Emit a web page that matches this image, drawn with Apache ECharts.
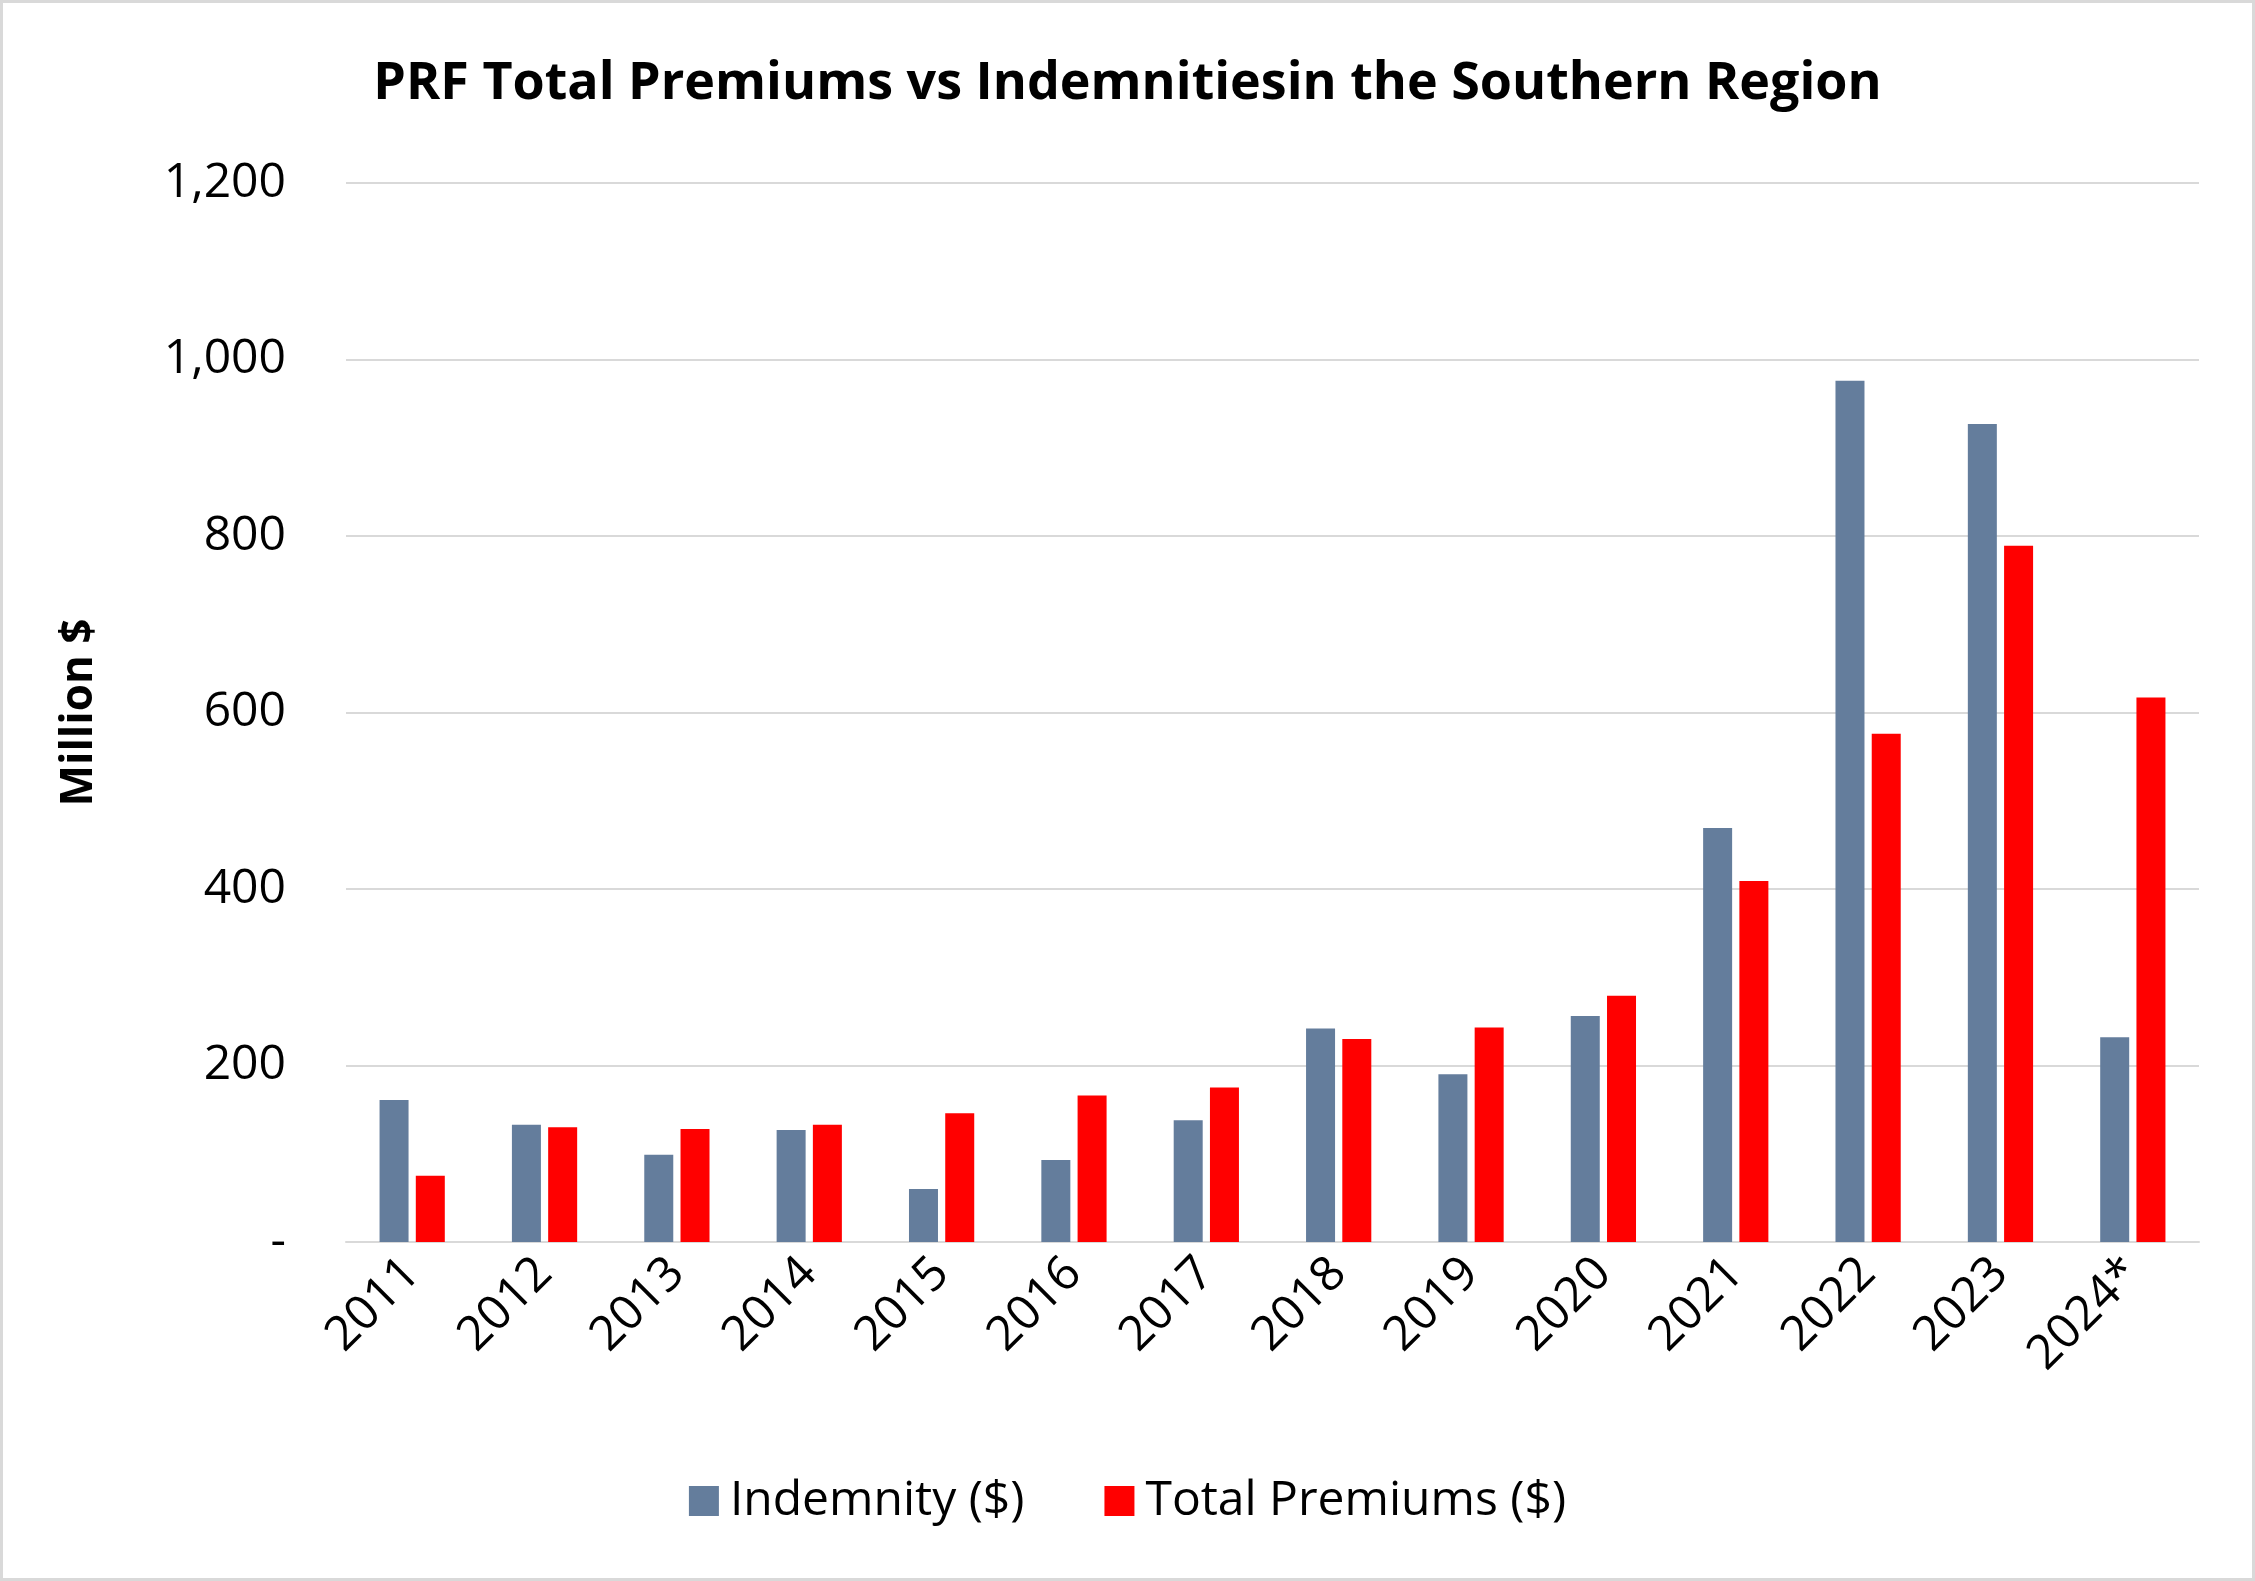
<!DOCTYPE html>
<html>
<head>
<meta charset="utf-8">
<script src="https://cdn.jsdelivr.net/npm/echarts@6/dist/echarts.min.js"></script>
<style>
html, body { margin: 0; padding: 0; background: #fff; }
#chart { width: 2255px; height: 1581px; box-sizing: border-box; border: 3px solid #d9d9d9; }
</style>
</head>
<body>
<div id="chart"></div>
<script>
var years = ['2011', '2012', '2013', '2014', '2015', '2016', '2017', '2018', '2019', '2020', '2021', '2022', '2023', '2024*'];
var indemnity = [161, 133, 99, 127, 60, 93, 138, 242, 190, 256, 469, 976, 927, 232];
var premiums = [75, 130, 128, 133, 146, 166, 175, 230, 243, 279, 409, 576, 789, 617];
var yTicks = { min: 0, max: 1200, interval: 200 };

var chart = echarts.init(document.getElementById('chart'));
var font = 'Open Sans, Noto Sans, sans-serif';
chart.setOption({
    title: {
        text: 'PRF Total Premiums vs Indemnitiesin the Southern Region',
        left: 'center', top: 50,
        textStyle: { fontFamily: font, fontSize: 52, fontWeight: 'bold', color: '#000' }
    },
    legend: {
        bottom: 48, left: 'center', itemWidth: 30, itemHeight: 30, itemGap: 80,
        icon: 'rect',
        textStyle: { fontFamily: font, fontSize: 48, color: '#000', padding: [0, 0, 0, 6] },
        data: ['Indemnity ($)', 'Total Premiums ($)']
    },
    grid: { left: 343, right: 53, top: 180, bottom: 336 },
    xAxis: {
        type: 'category', data: years,
        axisLine: { lineStyle: { color: '#d9d9d9', width: 2 } },
        axisTick: { show: false },
        axisLabel: { rotate: 45, fontFamily: font, fontSize: 48, color: '#000', margin: 24 }
    },
    yAxis: {
        type: 'value', min: yTicks.min, max: yTicks.max, interval: yTicks.interval,
        name: 'Million $', nameLocation: 'middle', nameGap: 245, nameRotate: 90,
        nameTextStyle: { fontFamily: font, fontSize: 44, fontWeight: 'bold', color: '#000' },
        splitLine: { lineStyle: { color: '#d9d9d9', width: 2 } },
        axisLabel: {
            fontFamily: font, fontSize: 48, color: '#000', margin: 60,
            formatter: function (v) { return v === 0 ? '-' : v.toLocaleString('en-US'); }
        }
    },
    series: [
        { name: 'Indemnity ($)', type: 'bar', data: indemnity, barWidth: 29, barGap: '25%',
          itemStyle: { color: '#647d9c' } },
        { name: 'Total Premiums ($)', type: 'bar', data: premiums, barWidth: 29,
          itemStyle: { color: '#ff0000' } }
    ]
});
</script>
</body>
</html>
